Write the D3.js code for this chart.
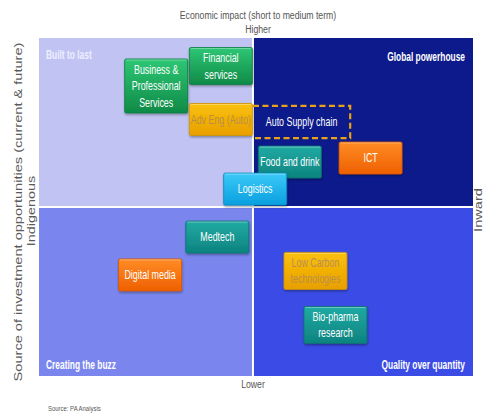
<!DOCTYPE html>
<html><head><meta charset="utf-8">
<script src="https://cdn.jsdelivr.net/npm/d3@7"></script>
<style>body{margin:0;background:#fff}svg{display:block}</style>
</head><body>
<script>
// ---- data ----
const quadrantNames = ["Built to last", "Global powerhouse", "Creating the buzz", "Quality over quantity"];
const sectors = ["Auto Supply chain", "Business & Professional Services", "Financial services", "Adv Eng (Auto)",
  "Food and drink", "ICT", "Logistics", "Medtech", "Digital media", "Low Carbon technologies", "Bio-pharma research"];
const sectorLines = [["Auto Supply chain"], ["Business &", "Professional", "Services"], ["Financial", "services"], ["Adv Eng (Auto)"],
  ["Food and drink"], ["ICT"], ["Logistics"], ["Medtech"], ["Digital media"], ["Low Carbon", "technologies"], ["Bio-pharma", "research"]];
// source of investment (Indigenous 0 -> Inward 10)
const sourceScore = [6.05, 2.70, 4.19, 4.19, 5.78, 7.64, 4.98, 4.11, 2.56, 6.37, 6.83];
// economic impact (Lower 0 -> Higher 10)
const impactScore = [7.52, 8.58, 9.17, 7.59, 6.33, 6.45, 5.53, 4.11, 2.99, 3.11, 1.51];
const sourceSplit = 4.93, impactSplit = 5.0;
const clusterExtent = {x0: 4.93, x1: 7.17, y0: 7.04, y1: 7.99}; // dashed "Auto Supply chain" grouping
const axisTexts = {title: "Economic impact (short to medium term)", top: "Higher", bottom: "Lower",
  left: "Source of investment opportunities (current & future)", leftSub: "Indigenous", right: "Inward", source: "Source: PA Analysis"};

// ---- styles ----
const boxStyle = {
  "Business & Professional Services": "green", "Financial services": "green", "Adv Eng (Auto)": "yellow",
  "Food and drink": "teal", "ICT": "orange", "Logistics": "cyan", "Medtech": "teal", "Digital media": "orange",
  "Low Carbon technologies": "yellow", "Bio-pharma research": "teal"
};
const palette = {
  green: ["#2ec775", "#0f8a47", "#0b7a3d", "#ffffff"],
  yellow: ["#fbc10a", "#e89f00", "#cf9000", "#b98e4c"],
  teal: ["#21aaa4", "#0d837f", "#0a716e", "#ffffff"],
  orange: ["#ff8c26", "#ef6000", "#d85500", "#ffffff"],
  cyan: ["#3bcaf8", "#0a9fdf", "#0a8ac4", "#ffffff"]
};
const quadFill = ["#c1c4f3", "#0d1a8b", "#7a86ee", "#3b4ce6"];
const FONT = "'Liberation Sans', Arial, sans-serif";
const SX = 0.74;
const W = 484, H = 414;

const svg = d3.select("body").append("svg").attr("width", W).attr("height", H);
const defs = svg.append("defs");
Object.entries(palette).forEach(([k, c]) => {
  const g = defs.append("linearGradient").attr("id", "g-" + k).attr("x1", 0).attr("y1", 0).attr("x2", 0).attr("y2", 1);
  g.append("stop").attr("offset", "0%").attr("stop-color", c[0]);
  g.append("stop").attr("offset", "100%").attr("stop-color", c[1]);
});
const f = defs.append("filter").attr("id", "sh").attr("x", "-20%").attr("y", "-20%").attr("width", "140%").attr("height", "150%");
f.append("feDropShadow").attr("dx", 0.5).attr("dy", 1.5).attr("stdDeviation", 1).attr("flood-color", "#000").attr("flood-opacity", 0.35);

const x = d3.scaleLinear().domain([0, 10]).range([39, 473]);
const y = d3.scaleLinear().domain([0, 10]).range([376, 38]);

function stext(g, px, py, txt, size, opts = {}) {
  const t = g.append("g").attr("transform", `translate(${px},${py}) scale(${opts.sx || SX},1)`)
    .append("text").attr("x", 0).attr("y", 0).attr("text-anchor", opts.anchor || "middle")
    .attr("font-family", FONT).attr("font-size", size).attr("fill", opts.fill || "#fff")
    .attr("font-weight", opts.weight || "normal").text(txt);
  return t;
}

// quadrants
const xm = x(sourceSplit), ym = y(impactSplit);
const quads = [
  [x(0), y(10), xm - 1, ym - 1], [xm + 1, y(10), x(10), ym - 1],
  [x(0), ym + 1, xm - 1, y(0)], [xm + 1, ym + 1, x(10), y(0)]
];
svg.selectAll("rect.q").data(quads).join("rect").attr("class", "q")
  .attr("x", d => d[0]).attr("y", d => d[1]).attr("width", d => d[2] - d[0]).attr("height", d => d[3] - d[1])
  .attr("fill", (d, i) => quadFill[i]);

// quadrant labels
const ql = svg.append("g");
stext(ql, x(0) + 7, y(10) + 21, quadrantNames[0], 12, {anchor: "start", weight: "bold", fill: "#eceeff", sx: 0.7});
stext(ql, x(10) - 8, y(10) + 23, quadrantNames[1], 12, {anchor: "end", weight: "bold", sx: 0.7});
stext(ql, x(0) + 7, y(0) - 7, quadrantNames[2], 12, {anchor: "start", weight: "bold", sx: 0.7});
stext(ql, x(10) - 8, y(0) - 7, quadrantNames[3], 12, {anchor: "end", weight: "bold", sx: 0.7});

// dashed cluster
const cx0 = x(clusterExtent.x0), cx1 = x(clusterExtent.x1), cy0 = y(clusterExtent.y1), cy1 = y(clusterExtent.y0);
svg.append("path").attr("d", `M${cx0},${cy0}H${cx1}V${cy1}H${cx0}`)
  .attr("fill", "none").attr("stroke", "#e8a219").attr("stroke-width", 2.2).attr("stroke-dasharray", "6,3.5");
stext(svg, x(sourceScore[0]), y(impactScore[0]) + 4.5, sectorLines[0][0], 12);

// boxes
const BW = 63, LH = 16.5;
const hFor = n => n === 1 ? 32 : (n === 2 ? 37 : 54);
const order = [1, 2, 3, 4, 5, 6, 7, 8, 9, 10];
order.forEach(i => {
  const name = sectors[i], lines = sectorLines[i], st = palette[boxStyle[name]];
  const cx = x(sourceScore[i]), cy = y(impactScore[i]), h = hFor(lines.length);
  const g = svg.append("g");
  g.append("rect").attr("x", cx - BW / 2).attr("y", cy - h / 2).attr("width", BW).attr("height", h)
    .attr("rx", 1.5).attr("fill", `url(#g-${boxStyle[name]})`).attr("stroke", st[2]).attr("stroke-width", 0.8)
    .attr("filter", "url(#sh)");
  g.append("line").attr("x1", cx - BW / 2 + 1.5).attr("x2", cx + BW / 2 - 1.5).attr("y1", cy - h / 2 + 1).attr("y2", cy - h / 2 + 1)
    .attr("stroke", "#fff").attr("stroke-opacity", 0.35).attr("stroke-width", 1);
  const n = lines.length;
  lines.forEach((ln, j) => {
    const ty = cy + (j - (n - 1) / 2) * LH + 4.2;
    stext(g, cx, ty, ln, 12, {fill: st[3]});
  });
});

// axis texts
const at = svg.append("g");
stext(at, 258, 19, axisTexts.title, 10, {fill: "#555", sx: 0.87});
stext(at, 258, 33, axisTexts.top, 10, {fill: "#555", sx: 0.87});
stext(at, 253, 388, axisTexts.bottom, 10, {fill: "#555", sx: 0.87});
stext(at, 48, 411, axisTexts.source, 7, {fill: "#555", anchor: "start", sx: 0.85});

function vtext(px, py, txt, size) {
  at.append("g").attr("transform", `translate(${px},${py}) rotate(-90) scale(1,0.75)`)
    .append("text").attr("text-anchor", "middle").attr("font-family", FONT).attr("font-size", size)
    .attr("fill", "#5a5a5a").text(txt);
}
vtext(22, 212, axisTexts.left, 14.6);
vtext(35, 211, axisTexts.leftSub, 14.4);
vtext(482, 210, axisTexts.right, 14.6);
</script>
</body></html>
